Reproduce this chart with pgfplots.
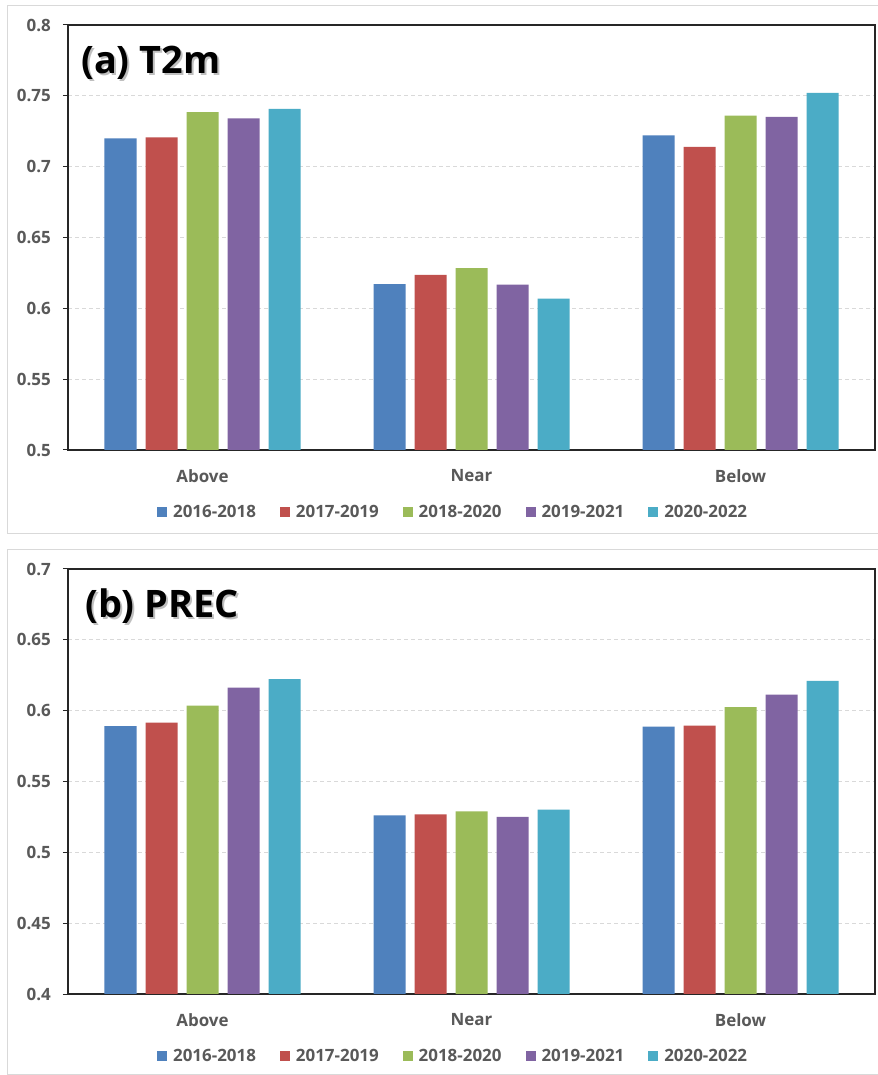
\documentclass[border=0pt]{standalone}
\usepackage{pgfplots}
\pgfplotsset{compat=1.18}
\usepackage{fontspec}
\setmainfont{Open Sans}
\definecolor{cA}{HTML}{4F81BD}
\definecolor{cB}{HTML}{C0504D}
\definecolor{cC}{HTML}{9BBB59}
\definecolor{cD}{HTML}{8064A2}
\definecolor{cE}{HTML}{4BACC6}
\definecolor{txt}{HTML}{595959}
\definecolor{frm}{HTML}{D9D9D9}
\definecolor{axl}{HTML}{262626}

\pgfplotsset{
  mybar/.style={
    scale only axis, width=807bp, height=425bp,
    xmin=-0.5, xmax=2.5, xtick={0,1,2}, xticklabels={Above,Near,Below},
    ybar=9bp, bar width=32bp,
    ymajorgrids, major grid style={dash pattern=on 4bp off 3bp, color=frm, line width=0.8bp},
    axis line style={axl, line width=1.2bp},
    tick align=outside, ytick pos=left, xtick style={draw=none},
    ytick style={axl, line width=1bp}, major tick length=5bp,
    /pgf/number format/assume math mode=true,
    tick label style={font=\fontsize{17}{17}\selectfont\bfseries, text=txt},
    yticklabel style={anchor=east, inner sep=0pt, xshift=-12bp},
    xticklabel style={anchor=north, inner sep=0pt, yshift=-14bp},
    legend columns=5,
    legend style={draw=none, fill=none, at={(0.476,-0.145)}, anchor=center,
      font=\fontsize{17}{17}\selectfont\bfseries, text=txt,
      nodes={inner sep=0pt},
      /tikz/every odd column/.append style={column sep=6bp},
      /tikz/every even column/.append style={column sep=24bp}},
    legend image code/.code={\fill[#1] (0bp,-5bp) rectangle (10bp,5bp);},
  }
}

\begin{document}
\begin{tikzpicture}
\useasboundingbox (0,0) rectangle (878bp,1075bp);
\fill[white] (0,0) rectangle (878bp,1075bp);
\draw[frm, line width=1bp] (7bp,541bp) rectangle (878.5bp,1069bp);
\draw[frm, line width=1bp] (7bp,1bp) rectangle (878.5bp,525bp);

% (a) T2m
\begin{axis}[mybar, at={(68bp,625bp)}, anchor=south west,
  ymin=0.5, ymax=0.8, ytick={0.5,0.55,0.6,0.65,0.7,0.75,0.8}]
\addplot[fill=cA, draw=none] coordinates {(0,0.720) (1,0.617) (2,0.722)};
\addplot[fill=cB, draw=none] coordinates {(0,0.7206) (1,0.6237) (2,0.7139)};
\addplot[fill=cC, draw=none] coordinates {(0,0.7385) (1,0.6284) (2,0.7361)};
\addplot[fill=cD, draw=none] coordinates {(0,0.734) (1,0.6167) (2,0.7352)};
\addplot[fill=cE, draw=none] coordinates {(0,0.7408) (1,0.6068) (2,0.7521)};
\legend{2016-2018,2017-2019,2018-2020,2019-2021,2020-2022}
\end{axis}

% (b) PREC
\begin{axis}[mybar, at={(68bp,81bp)}, anchor=south west,
  ymin=0.4, ymax=0.7, ytick={0.4,0.45,0.5,0.55,0.6,0.65,0.7}]
\addplot[fill=cA, draw=none] coordinates {(0,0.589) (1,0.526) (2,0.5887)};
\addplot[fill=cB, draw=none] coordinates {(0,0.5915) (1,0.5268) (2,0.5894)};
\addplot[fill=cC, draw=none] coordinates {(0,0.6035) (1,0.5289) (2,0.6025)};
\addplot[fill=cD, draw=none] coordinates {(0,0.6162) (1,0.5251) (2,0.6113)};
\addplot[fill=cE, draw=none] coordinates {(0,0.6222) (1,0.5301) (2,0.6211)};
\legend{2016-2018,2017-2019,2018-2020,2019-2021,2020-2022}
\end{axis}

\node[anchor=base west, inner sep=0pt, text=black!45, opacity=0.55,
  font=\fontsize{38}{38}\selectfont\bfseries] at (83bp,999.5bp) {(a) T2m};
\node[anchor=base west, inner sep=0pt, text=black,
  font=\fontsize{38}{38}\selectfont\bfseries] at (81bp,1001.5bp) {(a) T2m};
\node[anchor=base west, inner sep=0pt, text=black!45, opacity=0.55,
  font=\fontsize{38}{38}\selectfont\bfseries] at (87bp,455.7bp) {(b) PREC};
\node[anchor=base west, inner sep=0pt, text=black,
  font=\fontsize{38}{38}\selectfont\bfseries] at (85bp,457.7bp) {(b) PREC};
\end{tikzpicture}
\end{document}
